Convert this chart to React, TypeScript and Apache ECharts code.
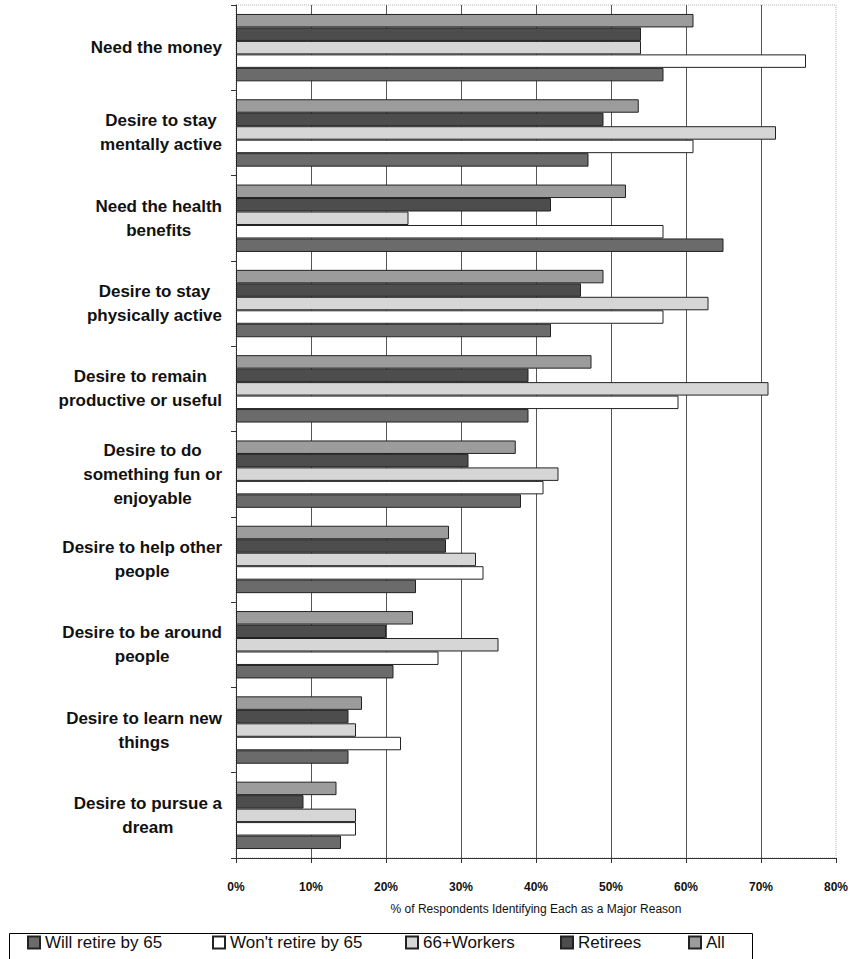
import React, { useEffect, useRef } from 'react';
import * as echarts from 'echarts';

const categories = [
  'Need the money',
  'Desire to stay\nmentally active',
  'Need the health\nbenefits',
  'Desire to stay\nphysically active',
  'Desire to remain\nproductive or useful',
  'Desire to do\nsomething fun or\nenjoyable',
  'Desire to help other\npeople',
  'Desire to be around\npeople',
  'Desire to learn new\nthings',
  'Desire to pursue a\ndream',
];

const seriesNames = ['Will retire by 65', "Won't retire by 65", '66+Workers', 'Retirees', 'All'];
const willRetire = [57, 47, 65, 42, 39, 38, 24, 21, 15, 14];
const wontRetire = [76, 61, 57, 57, 59, 41, 33, 27, 22, 16];
const workers66 = [54, 72, 23, 63, 71, 43, 32, 35, 16, 16];
const retirees = [54, 49, 42, 46, 39, 31, 28, 20, 15, 9];
const allResp = [61, 53.7, 52, 49, 47.4, 37.3, 28.4, 23.6, 16.8, 13.4];
const seriesValues = [willRetire, wontRetire, workers66, retirees, allResp];
const seriesColors = ['#6b6b6b', '#ffffff', '#d6d6d6', '#4d4d4d', '#9c9c9c'];

const FONT = '"Liberation Sans", Arial, Helvetica, sans-serif';

export default function App() {
  const ref = useRef<HTMLDivElement>(null);
  useEffect(() => {
    if (!ref.current) return;
    const chart = echarts.init(ref.current, undefined, { renderer: 'svg' });
    const legendLefts = [27, 212, 405, 560, 688];
    const drawOrder = [4, 3, 2, 1, 0];
    chart.setOption({
      animation: false,
      backgroundColor: '#ffffff',
      textStyle: { fontFamily: FONT },
      grid: {
        left: 236,
        top: 5,
        width: 600,
        height: 853,
        show: true,
        borderColor: '#b5b5b5',
        borderWidth: 1,
        borderType: 'dotted',
      },
      graphic: [
        {
          type: 'rect',
          left: 7,
          top: 931,
          shape: { width: 743, height: 26 },
          style: { fill: 'none', stroke: '#000', lineWidth: 1 },
          silent: true,
        },
      ],
      legend: seriesNames.map((n, i) => ({
        left: legendLefts[i],
        top: 934,
        padding: 0,
        itemGap: 0,
        itemWidth: 12,
        itemHeight: 12,
        textStyle: { fontSize: 17, color: '#111', fontFamily: FONT },
        data: [{ name: n, icon: 'rect' }],
      })),
      xAxis: {
        type: 'value',
        min: 0,
        max: 80,
        interval: 10,
        name: '% of Respondents Identifying Each as a Major Reason',
        nameLocation: 'middle',
        nameGap: 45,
        nameTextStyle: { fontSize: 12, color: '#111', fontFamily: FONT },
        axisLine: { show: true, lineStyle: { color: '#333', width: 1 } },
        axisTick: { show: true, length: 5, lineStyle: { color: '#333' } },
        axisLabel: {
          formatter: '{value}%',
          fontSize: 12,
          fontWeight: 'bold',
          color: '#111',
          margin: 23,
          fontFamily: FONT,
        },
        splitLine: {
          show: true,
          showMinLine: false,
          showMaxLine: false,
          lineStyle: { color: '#555', width: 1 },
        },
      },
      yAxis: {
        type: 'category',
        inverse: true,
        data: categories,
        axisLine: { show: true, lineStyle: { color: '#333', width: 1 } },
        axisTick: { show: true, length: 5, lineStyle: { color: '#333' } },
        axisLabel: {
          interval: 0,
          align: 'right',
          margin: 14,
          formatter: (v: string) => v.split('\n').map((l) => `{c|${l}}`).join('\n'),
          rich: {
            c: {
              align: 'center',
              fontSize: 17,
              fontWeight: 'bold',
              lineHeight: 24,
              color: '#111',
              fontFamily: FONT,
            },
          },
        },
        splitLine: { show: false },
      },
      series: drawOrder.map((i) => ({
        name: seriesNames[i],
        type: 'bar',
        data: seriesValues[i],
        barGap: '0%',
        barCategoryGap: '21%',
        itemStyle: { color: seriesColors[i], borderColor: '#222', borderWidth: 1 },
      })),
    });
    return () => chart.dispose();
  }, []);
  return (
    <div
      ref={ref}
      style={{ position: 'absolute', left: 0, top: 0, width: 855, height: 959 }}
    />
  );
}
